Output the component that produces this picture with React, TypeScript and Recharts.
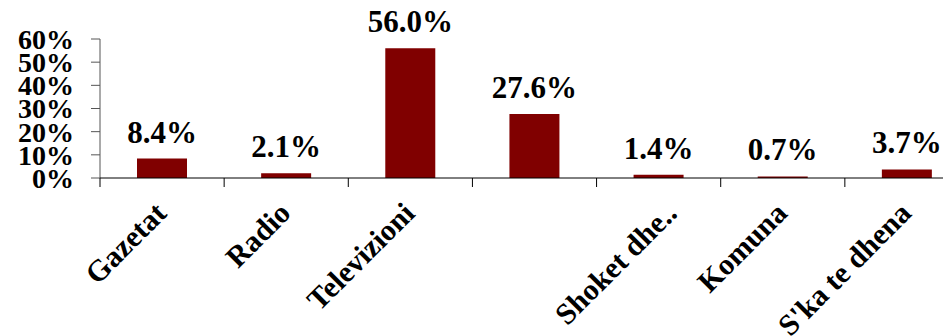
import React from "react";
import { BarChart, Bar, XAxis, YAxis, LabelList } from "recharts";

const categories = ["Gazetat", "Radio", "Televizioni", "", "Shoket dhe..", "Komuna", "S'ka te dhena"];
const shares = [8.4, 2.1, 56.0, 27.6, 1.4, 0.7, 3.7];
const yTicks = [0, 10, 20, 30, 40, 50, 60];

const data = categories.map((c, i) => ({ name: c, value: shares[i] }));

const CHART_W = 1000;
const CHART_H = 336;
const LEFT = 100;
const RIGHT_EDGE = 969;
const TOP = 39;
const AXIS_Y = 178;
const BAND = (RIGHT_EDGE - LEFT) / categories.length;
const FONT = "'Liberation Serif', 'Times New Roman', serif";

const XTick = (props: any) => {
  const { x, payload } = props;
  const label: string = String(payload.value);
  const truncated = label.endsWith("..");
  const ax = x + (truncated ? 20 : 6);
  const ay = AXIS_Y + 37;
  return (
    <g>
      <line x1={x - BAND / 2} x2={x - BAND / 2} y1={AXIS_Y} y2={AXIS_Y + 9} stroke="#000" strokeWidth={1} />
      <text
        x={ax}
        y={ay}
        transform={`rotate(-45, ${ax}, ${ay})`}
        textAnchor="end"
        fontFamily={FONT}
        fontWeight="bold"
        fontSize={30}
        fill="#000"
      >
        {label}
      </text>
    </g>
  );
};

export default function App() {
  return (
    <div style={{ position: "absolute", left: 0, top: 0, width: 943, height: 336, overflow: "hidden", background: "#fff" }}>
      <BarChart
        width={CHART_W}
        height={CHART_H}
        data={data}
        margin={{ top: TOP, right: CHART_W - RIGHT_EDGE, left: 0, bottom: 0 }}
        barCategoryGap={0}
      >
        <YAxis
          width={LEFT}
          domain={[0, 60]}
          ticks={yTicks}
          interval={0}
          tickFormatter={(v: number) => `${v}%`}
          axisLine={{ stroke: "#555" }}
          tickLine={{ stroke: "#555" }}
          tickSize={9}
          tickMargin={17}
          tick={{ fontFamily: FONT, fontWeight: "bold", fontSize: 28, fill: "#000" }}
        />
        <XAxis
          dataKey="name"
          interval={0}
          axisLine={{ stroke: "#000" }}
          tickLine={false}
          tick={<XTick />}
          height={CHART_H - AXIS_Y}
        />
        <Bar dataKey="value" fill="#800000" barSize={50} isAnimationActive={false}>
          <LabelList
            dataKey="value"
            position="top"
            offset={16}
            formatter={(v: number) => `${v.toFixed(1)}%`}
            style={{ fontFamily: FONT, fontWeight: "bold", fontSize: 31, fill: "#000" }}
          />
        </Bar>
      </BarChart>
    </div>
  );
}
